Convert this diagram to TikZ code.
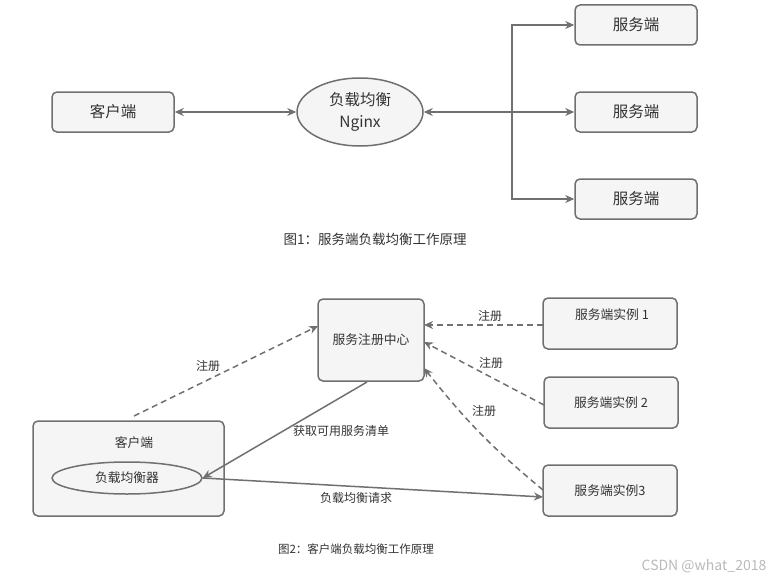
\documentclass[tikz,border=0pt]{standalone}
\usepackage{fontspec}
\setmainfont{Noto Sans CJK SC}
\usetikzlibrary{shapes.geometric,arrows.meta}
\definecolor{edge}{HTML}{707070}
\definecolor{boxfill}{HTML}{F5F5F5}
\definecolor{txt}{HTML}{333333}
\tikzset{
  box/.style={draw=edge,fill=boxfill,line width=1.5pt,rounded corners=5pt,inner sep=0pt,text=txt},
  oval/.style={ellipse,draw=edge,fill=boxfill,line width=1.5pt,inner sep=0pt,text=txt},
  conn/.style={draw=edge,line width=1.5pt,-{Stealth[length=9pt,width=8pt]}},
  dconn/.style={conn,dash pattern=on 6pt off 4pt},
  lbl/.style={text=txt,font=\fontsize{12}{14}\selectfont},
  big/.style={font=\fontsize{15.5}{18}\selectfont},
  mid/.style={font=\fontsize{12.8}{15}\selectfont},
}
\begin{document}
\begin{tikzpicture}[x=1pt,y=-1pt]
\useasboundingbox (0,0) rectangle (776,578);
% ---- Figure 1
\node[box,big,minimum width=122pt,minimum height=40pt] (c1) at (113,112) {客户端};
\node[oval,minimum width=126pt,minimum height=68pt,font=\fontsize{15.5}{22}\selectfont,align=center] (lb) at (360,112) {负载均衡\\Nginx};
\node[box,big,minimum width=122pt,minimum height=40pt] (s1) at (636,25) {服务端};
\node[box,big,minimum width=122pt,minimum height=40pt] (s2) at (636,112) {服务端};
\node[box,big,minimum width=122pt,minimum height=40pt] (s3) at (636,199) {服务端};
\coordinate (j) at (512,112);
\draw[conn,{Stealth[length=9pt,width=8pt]}-{Stealth[length=9pt,width=8pt]}] (c1.east) -- (lb.west);
\draw[conn,{Stealth[length=9pt,width=8pt]}-] (lb.east) -- (j);
\draw[conn] (j) |- (s1.west);
\draw[conn] (j) -- (s2.west);
\draw[conn] (j) |- (s3.west);
\node[lbl,font=\fontsize{13.5}{16}\selectfont] (cap1) at (375,239) {图1：服务端负载均衡工作原理};
% ---- Figure 2
\node[box,mid,minimum width=106pt,minimum height=82pt] (reg) at (371,340) {服务注册中心};
\node[box,minimum width=134pt,minimum height=51pt] (i1) at (610,323.5) {};
\node[lbl,mid] (i1t) at (612,315) {服务端实例 1};
\node[box,mid,minimum width=134pt,minimum height=51pt] (i2) at (611,402.5) {服务端实例 2};
\node[box,mid,minimum width=134pt,minimum height=51pt] (i3) at (610,490.5) {服务端实例3};
\node[box,minimum width=191pt,minimum height=95pt] (cl) at (128.5,468.5) {};
\node[lbl,mid] (clt) at (134,443) {客户端};
\node[oval,mid,minimum width=150pt,minimum height=32pt] (lb2) at (127,478) {负载均衡器};
% connector end points
\coordinate (cltop) at (134,416);
\coordinate (regw) at (318,326);
\coordinate (rs) at (367,382);
\coordinate (i3w) at (543,497);
\coordinate (i1w) at (543,325);
\coordinate (rege1) at (424,325);
\coordinate (i2w) at (544,405);
\coordinate (rege2) at (424,342);
\coordinate (i3w2) at (543,490);
\coordinate (rege3) at (424,368);
\draw[dconn] (cltop) -- (regw);
\node[lbl] (r0) at (208,366) {注册};
\draw[conn] (rs) -- (lb2.east);
\node[lbl] (g) at (341,431) {获取可用服务清单};
\draw[conn] (lb2.east) -- (i3w);
\node[lbl] (q) at (356,498) {负载均衡请求};
\draw[dconn] (i1w) -- (rege1);
\node[lbl] (r1) at (490,316) {注册};
\draw[dconn] (i2w) -- (rege2);
\node[lbl] (r2) at (491,363) {注册};
\draw[dconn] (i3w2) to[bend left=6] (rege3);
\node[lbl] (r3) at (484,411) {注册};
\node[lbl,font=\fontsize{11.5}{13}\selectfont] (cap2) at (356,549) {图2：客户端负载均衡工作原理};
\node[text=gray!55,font=\fontsize{14}{16}\selectfont] (wm) at (704,566) {CSDN @what\_2018};
\end{tikzpicture}
\end{document}
